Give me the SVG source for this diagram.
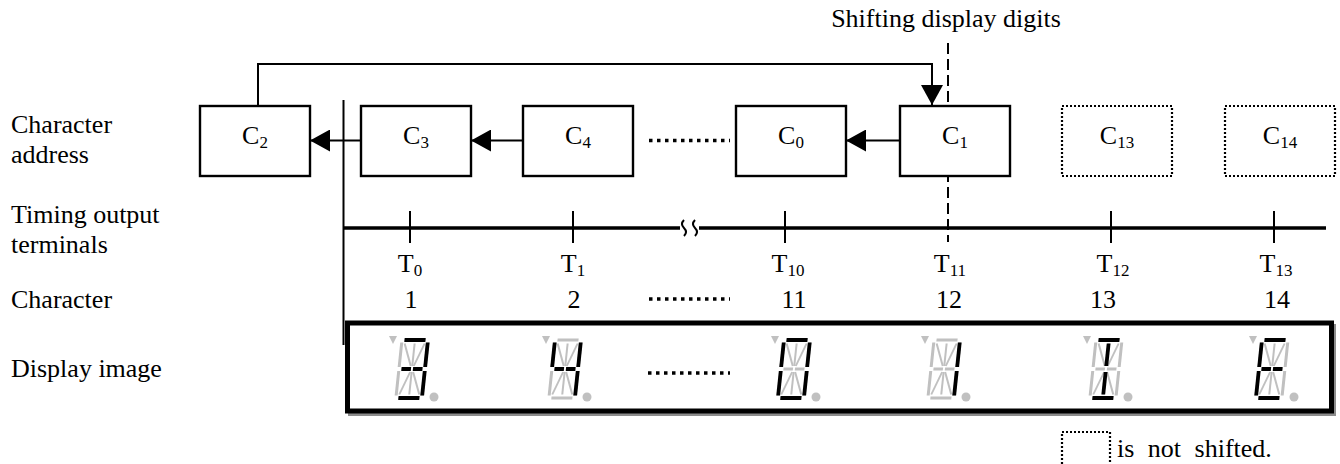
<svg xmlns="http://www.w3.org/2000/svg" xmlns:xlink="http://www.w3.org/1999/xlink" width="1340" height="464" viewBox="0 0 1340 464">
<style>
text{font-family:"Liberation Serif","Times New Roman",serif;font-size:26px;fill:#000}
.sub{font-size:17px}
.box{fill:#fff;stroke:#000;stroke-width:2.4}
.dbox{fill:#fff;stroke:#000;stroke-width:2.2;stroke-dasharray:2 2}
.ln{fill:none;stroke:#000;stroke-width:2}
.lead{fill:none;stroke:#000;stroke-width:3.5;stroke-dasharray:3.5 4.5}
.off{stroke:#c0c0c0;stroke-width:3;fill:none}
.offd{stroke:#c0c0c0;stroke-width:2;fill:none}
.on{stroke:#000;stroke-width:3.8;fill:none}
</style>
<defs>
<marker id="arr" markerUnits="userSpaceOnUse" markerWidth="20" markerHeight="22" refX="20" refY="11" orient="auto">
<path d="M0,0 L20,11 L0,22 z" fill="#000"/>
</marker>
<line id="sa" x1="2.5" y1="0" x2="23.5" y2="0"/>
<line id="sb" x1="26" y1="2.5" x2="26" y2="27"/>
<line id="sc" x1="26" y1="31" x2="26" y2="55.5"/>
<line id="sd" x1="2.5" y1="58" x2="23.5" y2="58"/>
<line id="se" x1="0" y1="31" x2="0" y2="55.5"/>
<line id="sf" x1="0" y1="2.5" x2="0" y2="27"/>
<line id="sg1" x1="2.5" y1="29" x2="12" y2="29"/>
<line id="sg2" x1="14" y1="29" x2="23.5" y2="29"/>
<line id="sh" x1="3" y1="3.5" x2="11.5" y2="26"/>
<line id="si" x1="13" y1="3.5" x2="13" y2="26"/>
<line id="sj" x1="23" y1="3.5" x2="14.5" y2="26"/>
<line id="sk" x1="11.5" y1="32" x2="3" y2="54.5"/>
<line id="sl" x1="13" y1="32" x2="13" y2="54.5"/>
<line id="sm" x1="14.5" y1="32" x2="23" y2="54.5"/>
<g id="base">
<path d="M-13,-4 L-5,-4 L-9,4 z" fill="#c0c0c0"/>
<circle cx="32" cy="57" r="4.5" fill="#c0c0c0"/>
<g transform="skewX(-6)">
<g class="off"><use xlink:href="#sa"/><use xlink:href="#sb"/><use xlink:href="#sc"/><use xlink:href="#sd"/><use xlink:href="#se"/><use xlink:href="#sf"/><use xlink:href="#sg1"/><use xlink:href="#sg2"/></g>
<g class="offd"><use xlink:href="#sh"/><use xlink:href="#si"/><use xlink:href="#sj"/><use xlink:href="#sk"/><use xlink:href="#sl"/><use xlink:href="#sm"/></g>
</g>
</g>
</defs>
<rect width="1340" height="464" fill="#fff"/>

<text x="946" y="27" text-anchor="middle">Shifting display digits</text>

<g id="row-labels">
<text x="11" y="133">Character</text>
<text x="11" y="163">address</text>
<text x="11" y="223">Timing output</text>
<text x="11" y="253">terminals</text>
<text x="11" y="308">Character</text>
<text x="11" y="377">Display image</text>
</g>

<g id="connectors">
<line class="ln" x1="948" y1="43" x2="948" y2="242" stroke-dasharray="11 5"/>
<polyline class="ln" points="258,106 258,64 932,64 932,105" marker-end="url(#arr)"/>
<line class="ln" x1="361" y1="140.5" x2="310" y2="140.5" marker-end="url(#arr)"/>
<line class="ln" x1="523" y1="140.5" x2="471" y2="140.5" marker-end="url(#arr)"/>
<line class="ln" x1="900" y1="140.5" x2="846" y2="140.5" marker-end="url(#arr)"/>
<line class="ln" x1="343.5" y1="100" x2="343.5" y2="345"/>
<line class="lead" x1="649" y1="140.5" x2="730" y2="140.5"/>
</g>

<g id="node-C2"><rect class="box" x="200" y="106" width="110" height="70"/><text x="255" y="144" text-anchor="middle">C<tspan class="sub" dy="4">2</tspan></text></g>
<g id="node-C3"><rect class="box" x="361" y="106" width="110" height="70"/><text x="416" y="144" text-anchor="middle">C<tspan class="sub" dy="4">3</tspan></text></g>
<g id="node-C4"><rect class="box" x="523" y="106" width="110" height="70"/><text x="578" y="144" text-anchor="middle">C<tspan class="sub" dy="4">4</tspan></text></g>
<g id="node-C0"><rect class="box" x="736" y="106" width="110" height="70"/><text x="791" y="144" text-anchor="middle">C<tspan class="sub" dy="4">0</tspan></text></g>
<g id="node-C1"><rect class="box" x="900" y="106" width="110" height="70"/><text x="955" y="144" text-anchor="middle">C<tspan class="sub" dy="4">1</tspan></text></g>
<g id="node-C13"><rect class="dbox" x="1062" y="106" width="110" height="70"/><text x="1117" y="144" text-anchor="middle">C<tspan class="sub" dy="4">13</tspan></text></g>
<g id="node-C14"><rect class="dbox" x="1225" y="106" width="110" height="70"/><text x="1280" y="144" text-anchor="middle">C<tspan class="sub" dy="4">14</tspan></text></g>

<g id="timing">
<line x1="344" y1="228" x2="680" y2="228" stroke="#000" stroke-width="3.5"/>
<line x1="699" y1="228" x2="1326" y2="228" stroke="#000" stroke-width="3.5"/>
<path class="ln" d="M684,220 q-4,4 0,8 q4,4 0,8"/>
<path class="ln" d="M695,220 q-4,4 0,8 q4,4 0,8"/>
<g class="ln">
<line x1="410" y1="211" x2="410" y2="243"/>
<line x1="573" y1="211" x2="573" y2="243"/>
<line x1="785" y1="211" x2="785" y2="243"/>
<line x1="1111" y1="211" x2="1111" y2="243"/>
<line x1="1274" y1="211" x2="1274" y2="243"/>
</g>
<g text-anchor="middle">
<text x="410" y="272">T<tspan class="sub" dy="4">0</tspan></text>
<text x="573" y="272">T<tspan class="sub" dy="4">1</tspan></text>
<text x="788" y="272">T<tspan class="sub" dy="4">10</tspan></text>
<text x="950" y="272">T<tspan class="sub" dy="4">11</tspan></text>
<text x="1113" y="272">T<tspan class="sub" dy="4">12</tspan></text>
<text x="1276" y="272">T<tspan class="sub" dy="4">13</tspan></text>
</g>
</g>

<g id="characters" text-anchor="middle">
<text x="411" y="308">1</text>
<text x="574" y="308">2</text>
<text x="794" y="308">11</text>
<text x="949" y="308">12</text>
<text x="1103" y="308">13</text>
<text x="1277" y="308">14</text>
<line class="lead" x1="649" y1="299" x2="730" y2="299"/>
</g>

<g id="display">
<rect x="350" y="326" width="984" height="88" fill="none" stroke="#8c8c8c" stroke-width="4"/>
<rect x="347.5" y="323" width="984" height="88" fill="#fff" stroke="#000" stroke-width="5"/>
<line class="lead" x1="648" y1="373" x2="730" y2="373"/>
<g id="digit1" transform="translate(402,340)"><use xlink:href="#base"/><g transform="skewX(-6)" class="on"><use xlink:href="#sa"/><use xlink:href="#sb"/><use xlink:href="#sc"/><use xlink:href="#sd"/><use xlink:href="#sg1"/><use xlink:href="#sg2"/></g></g>
<g id="digit2" transform="translate(555,340)"><use xlink:href="#base"/><g transform="skewX(-6)" class="on"><use xlink:href="#sf"/><use xlink:href="#sb"/><use xlink:href="#sc"/><use xlink:href="#sg1"/><use xlink:href="#sg2"/></g></g>
<g id="digit11" transform="translate(784,340)"><use xlink:href="#base"/><g transform="skewX(-6)" class="on"><use xlink:href="#sa"/><use xlink:href="#sb"/><use xlink:href="#sc"/><use xlink:href="#sd"/><use xlink:href="#se"/><use xlink:href="#sf"/></g></g>
<g id="digit12" transform="translate(934,340)"><use xlink:href="#base"/><g transform="skewX(-6)" class="on"><use xlink:href="#sb"/><use xlink:href="#sc"/></g></g>
<g id="digit13" transform="translate(1096,340)"><use xlink:href="#base"/><g transform="skewX(-6)" class="on"><use xlink:href="#sa"/><use xlink:href="#si"/><use xlink:href="#sl"/><use xlink:href="#sd"/></g></g>
<g id="digit14" transform="translate(1262,340)"><use xlink:href="#base"/><g transform="skewX(-6)" class="on"><use xlink:href="#sa"/><use xlink:href="#sf"/><use xlink:href="#se"/><use xlink:href="#sd"/><use xlink:href="#sg1"/><use xlink:href="#sg2"/></g></g>
</g>

<g id="legend">
<rect class="dbox" x="1062" y="432" width="48" height="40"/>
<text x="1117" y="457" word-spacing="7">is not shifted.</text>
</g>
</svg>
